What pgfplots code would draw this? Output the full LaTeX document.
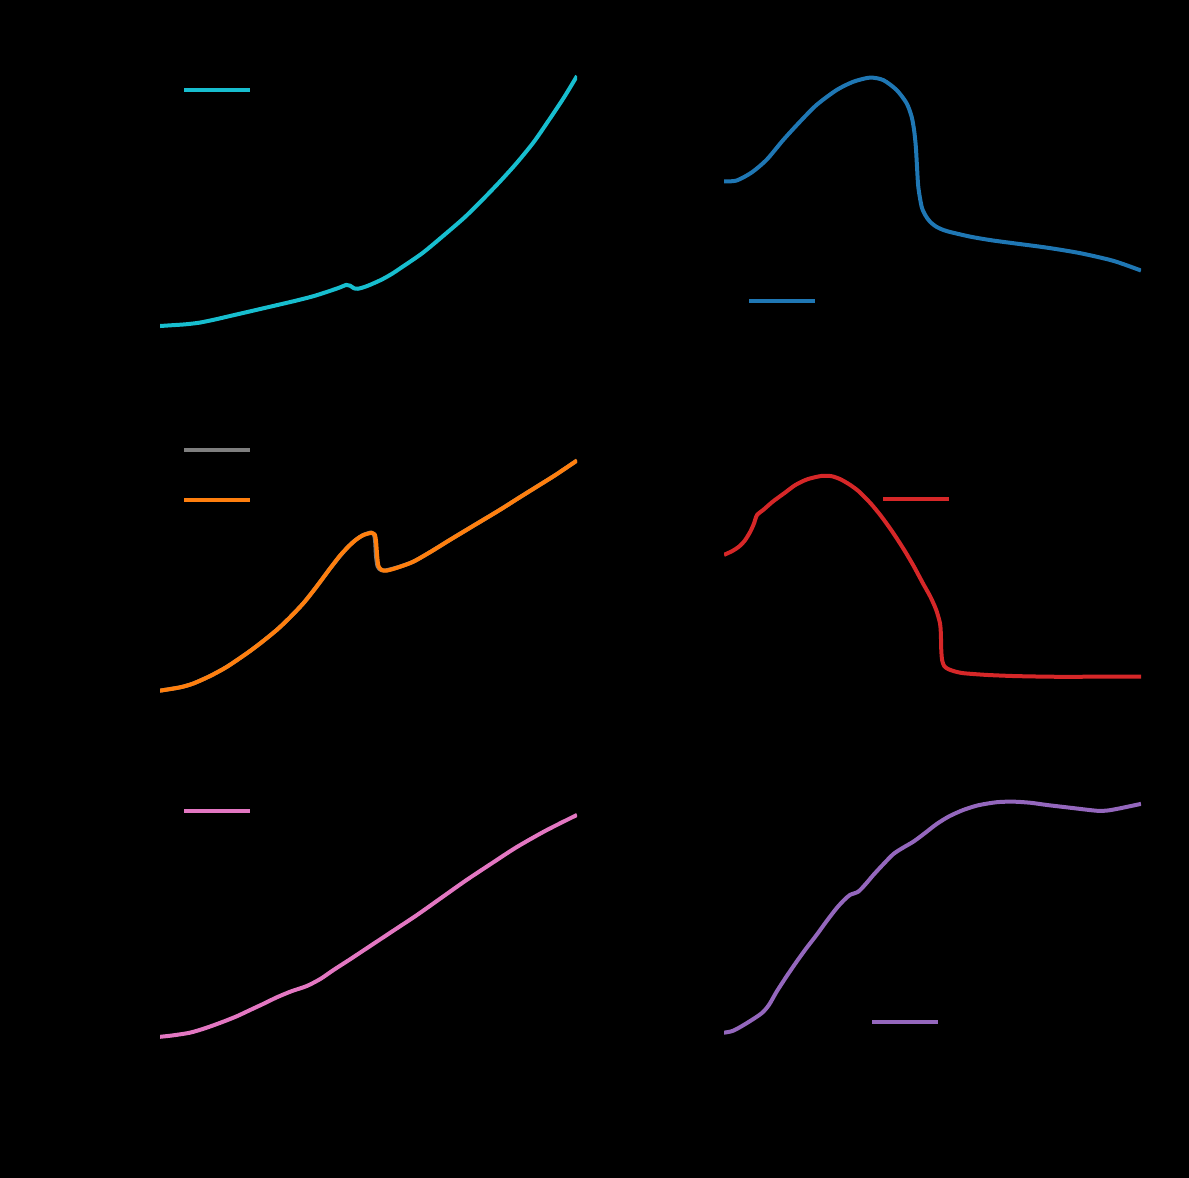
\documentclass[border=0pt]{standalone}
\usepackage{pgfplots}
\pgfplotsset{compat=1.18}
\definecolor{tcyan}{HTML}{17BECF}
\definecolor{tblue}{HTML}{1F77B4}
\definecolor{tgray}{HTML}{7F7F7F}
\definecolor{torange}{HTML}{FF7F0E}
\definecolor{tred}{HTML}{D62728}
\definecolor{tpink}{HTML}{E377C2}
\definecolor{tpurple}{HTML}{9467BD}
\pgfplotsset{
  panel/.style={
    width=208.5pt, height=138pt, scale only axis,
    xmin=0, xmax=100, ymin=0, ymax=100,
    axis line style={black, line width=0.6pt},
    xtick={0,20,...,100}, ytick={0,20,...,100},
    xticklabels={,,,,,}, yticklabels={,,,,,},
    tick style={black},
    legend image code/.code={\draw[#1,line width=2.1pt] (0pt,0pt) -- (33pt,0pt);},
    legend style={draw=none, fill=none, inner sep=0pt, outer sep=0pt,
      nodes={inner sep=0pt, outer sep=0pt}, row sep=23pt},
  },
  curve/.style={line width=2pt, line join=round, smooth, tension=0.45},
}
\begin{document}
\begin{tikzpicture}
\fill[black] (0pt,0pt) rectangle (594.5pt,589pt);
\path[use as bounding box] (0pt,0pt) rectangle (594.5pt,589pt);
% top left
\begin{axis}[panel, at={(80pt,419.5pt)}, anchor=south west,
  legend style={at={(0.053,0.902)}, anchor=west}]
\addplot[curve, tcyan] coordinates {
(0,4.7)(3,5.0)(6,5.3)(9.4,5.9)(13,7.0)(17,8.4)(21.3,9.9)(25,11.2)(29,12.6)(33.2,14.1)(37,15.6)(40.5,17.3)(43,18.6)(44.7,19.6)(45.6,19.3)(46.5,18.4)(47.5,18.2)(49.7,19.2)(53,21.4)(55.5,23.5)(58.0,26.0)(63,31.2)(68.1,37.6)(73,44.0)(77.3,50.4)(81.5,57.0)(85.5,63.7)(89.7,71.5)(93.8,80.5)(97,87.8)(100,95.3)};
\addlegendentry{}
\end{axis}
% top right
\begin{axis}[panel, at={(362pt,419.5pt)}, anchor=south west,
  legend style={at={(0.055,0.138)}, anchor=west}]
\addplot[curve, tblue] coordinates {
(0,57.1)(3.0,57.4)(6.6,60.3)(10.2,64.9)(14.2,72.1)(18.2,78.7)(22.2,84.8)(27.0,90.2)(31.0,93.2)(35.0,94.7)(38.2,93.8)(41.4,90.2)(43.8,85.4)(45.0,80.5)(45.6,75.5)(46.0,69.7)(46.3,62)(46.6,55)(47.4,47.9)(48.3,44.8)(49.4,42.5)(51,40.6)(53.4,39.1)(59.0,37.1)(64,35.8)(69.4,34.7)(77.4,33.1)(85.4,31.1)(93.4,28.3)(100,24.8)};
\addlegendentry{}
\end{axis}
% middle left
\begin{axis}[panel, at={(80pt,239.25pt)}, anchor=south west,
  legend style={at={(0.053,0.813)}, anchor=west}]
\addplot[curve, tgray] coordinates {
(0,3.2)(4.8,4.4)(8,5.8)(12.0,8.5)(16,11.8)(20.8,16.7)(24,20.3)(28.0,25.2)(31,29.5)(34.4,34.9)(37.5,40.8)(40.8,47.5)(43.3,52.2)(45.4,55.8)(47,57.9)(48.6,59.5)(50.6,60.5)(51.3,59.9)(51.6,57.3)(51.8,51.9)(52.2,48.2)(53,46.9)(54.2,46.8)(57,47.9)(60.7,49.9)(65,53.6)(69.5,57.8)(75,62.8)(81.5,68.7)(86,73.0)(91.1,77.8)(95,81.5)(100,86.6)};
\addlegendentry{}
\addplot[curve, torange] coordinates {
(0,3.2)(4.8,4.4)(8,5.8)(12.0,8.5)(16,11.8)(20.8,16.7)(24,20.3)(28.0,25.2)(31,29.5)(34.4,34.9)(37.5,40.8)(40.8,47.5)(43.3,52.4)(45.6,56.0)(47.2,58.1)(48.8,59.6)(50.8,60.4)(51.5,59.8)(51.8,57.5)(52.1,51.7)(52.4,48.3)(53.2,46.9)(54.4,46.7)(57,47.8)(60.7,49.9)(65,53.6)(69.5,57.8)(75,62.8)(81.5,68.7)(86,73.0)(91.1,77.8)(95,81.5)(100,86.6)};
\addlegendentry{}
\end{axis}
% middle right
\begin{axis}[panel, at={(362pt,239.25pt)}, anchor=south west,
  legend style={at={(0.377,0.726)}, anchor=west}]
\addplot[curve, tred] coordinates {
(0,52.4)(2,53.8)(3.6,55.4)(5,57.6)(6.3,60.8)(7.2,63.8)(7.9,66.8)(9.5,68.8)(11.7,71.7)(14.5,74.8)(17.1,77.7)(20,79.8)(23.4,81.0)(25.8,80.9)(27.9,79.8)(30.2,77.8)(32.4,75.3)(35.2,71.0)(37.8,66.2)(40.5,60.5)(43.2,54.2)(45.5,48.3)(47.7,42.1)(49.5,37.2)(50.9,32.4)(51.8,27.6)(52.0,24)(52.1,18)(52.3,14.3)(52.8,12.1)(53.8,11.0)(55.5,10.1)(57.6,9.5)(63,8.9)(69.4,8.5)(76,8.3)(82.9,8.2)(90,8.3)(100,8.3)};
\addlegendentry{}
\end{axis}
% bottom left
\begin{axis}[panel, at={(80pt,59pt)}, anchor=south west,
  legend style={at={(0.053,0.902)}, anchor=west}]
\addplot[curve, tpink] coordinates {
(0,8.4)(3,8.9)(7.2,9.9)(11,11.6)(15.2,13.9)(18.5,15.9)(21.6,18.1)(25,20.5)(28.0,22.7)(31.5,24.9)(35.2,26.8)(38.5,29.4)(41.6,32.6)(45.5,36.4)(49.6,40.5)(55.5,46.4)(61.6,52.5)(67.5,58.8)(73.5,65.2)(79.5,71.2)(85.5,77.1)(92.5,83.1)(100,88.8)};
\addlegendentry{}
\end{axis}
% bottom right
\begin{axis}[panel, at={(362pt,59pt)}, anchor=south west,
  legend style={at={(0.350,0.138)}, anchor=west}]
\addplot[curve, tpurple] coordinates {
(0,9.9)(2.2,10.6)(5.4,13.3)(9.0,16.9)(10.8,20)(12.6,24.7)(15,30.3)(17.4,35.6)(19.8,40.6)(22.2,45.3)(24.6,50.3)(27.0,55.0)(28.7,57.8)(30.2,59.8)(32.2,61.0)(34,63.8)(35.8,67.0)(38,70.6)(40.6,74.6)(42.8,76.8)(45.4,79.1)(48,82)(51.0,85.5)(54,88.3)(57.4,90.6)(61,92.3)(65.4,93.4)(69.4,93.6)(73.5,93.2)(77.4,92.4)(83,91.4)(89.4,90.3)(92,90.4)(95.0,91.2)(100,92.8)};
\addlegendentry{}
\end{axis}
\end{tikzpicture}
\end{document}
